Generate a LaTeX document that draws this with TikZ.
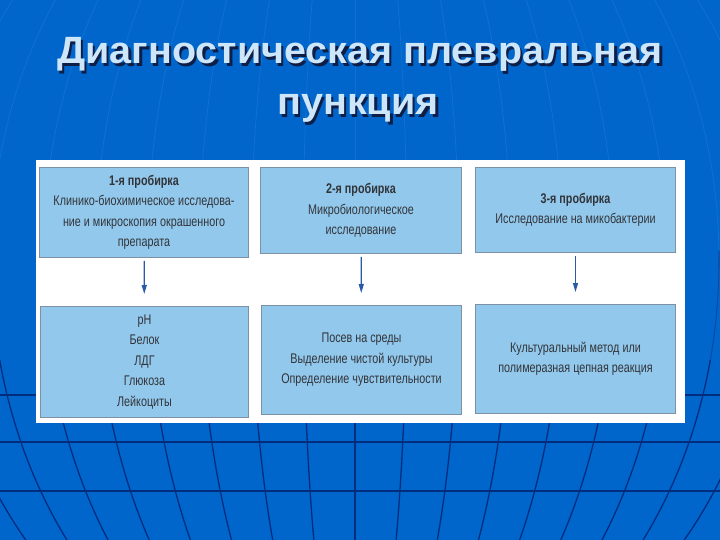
\documentclass[tikz,border=0pt]{standalone}
\usepackage{fontspec}
\setmainfont{Liberation Sans}
\newfontfamily\narrowfont{Liberation Sans}[FakeStretch=0.77]
\newfontfamily\headfont{Liberation Sans}[FakeStretch=1.04]
\usepackage{tikz}
\usetikzlibrary{arrows.meta, positioning}
\definecolor{slidebg}{RGB}{0,102,204}
\definecolor{gridfaint}{RGB}{18,112,210}
\definecolor{gridmid}{RGB}{10,75,165}
\definecolor{griddark}{RGB}{0,45,125}
\definecolor{boxfill}{RGB}{146,200,235}
\definecolor{boxedge}{RGB}{125,145,165}
\definecolor{boxtext}{RGB}{50,52,58}
\definecolor{arrowblue}{RGB}{40,90,165}
\definecolor{titlefg}{RGB}{205,230,250}
\definecolor{titleshade}{RGB}{15,30,70}
\tikzstyle{tube} = [rectangle, draw=boxedge, line width=1pt, fill=boxfill, text=boxtext,
    align=center, inner sep=0pt, font=\narrowfont\fontsize{14}{20.5}\selectfont]
\tikzstyle{heading} = [font=\headfont\bfseries\fontsize{38}{44}\selectfont, anchor=base, inner sep=0pt]
\tikzstyle{grid} = [line width=1.3pt]
\tikzstyle{arrow} = [line width=1.2pt, draw=arrowblue, -{Triangle[width=5pt,length=9pt]}]

\begin{document}
\begin{tikzpicture}[x=1pt, y=-1pt]
  \useasboundingbox (0,0) rectangle (720,540);
  \fill[slidebg] (0,0) rectangle (720,540);
  % globe lines, fainter towards the top
  \foreach \ya/\yb/\col/\lw in {0/250/gridfaint/0.8, 250/360/gridmid/1.1, 360/540/griddark/1.3} {
    \begin{scope}
      \clip (0,\ya) rectangle (720,\yb);
      \foreach \k in {1,...,8}
        \draw[\col, line width=\lw pt] (355,260) ellipse [x radius={52*\k*1pt}, y radius=458pt];
      \draw[\col, line width=\lw pt] (355,0) -- (355,540);
    \end{scope}
  }
  \foreach \y in {395,442,491}
    \draw[grid, griddark] (0,\y) -- (720,\y);

  % title
  \node (shade1) [heading, text=titleshade] at (362.5,66.5) {Диагностическая плевральная};
  \node (title1) [heading, text=titlefg] at (360,64) {Диагностическая плевральная};
  \node (shade2) [heading, text=titleshade] at (360.5,117.5) {пункция};
  \node (title2) [heading, text=titlefg] at (358,115) {пункция};

  % white panel
  \fill[white] (36,160) rectangle (685,423);

  \node (tube1) [tube, minimum width=209pt, minimum height=90pt, anchor=north west] at (39,167)
    {\textbf{1-я пробирка}\\Клинико-биохимическое исследова-\\ние и микроскопия окрашенного\\препарата};
  \node (tube2) [tube, minimum width=201pt, minimum height=86pt, right=11pt of tube1.north east, anchor=north west]
    {\textbf{2-я пробирка}\\Микробиологическое\\исследование};
  \node (tube3) [tube, minimum width=200pt, minimum height=85pt, right=13pt of tube2.north east, anchor=north west]
    {\textbf{3-я пробирка}\\Исследование на микобактерии};

  \node (res1) [tube, minimum width=208pt, minimum height=111pt, below=48pt of tube1.south west, anchor=north west, xshift=1pt]
    {pH\\Белок\\ЛДГ\\Глюкоза\\Лейкоциты};
  \node (res2) [tube, minimum width=200pt, minimum height=109pt, below=51pt of tube2.south west, anchor=north west, xshift=1pt]
    {Посев на среды\\Выделение чистой культуры\\Определение чувствительности};
  \node (res3) [tube, minimum width=200pt, minimum height=109pt, below=51pt of tube3.south west, anchor=north west]
    {Культуральный метод или\\полимеразная цепная реакция};

  \draw[arrow, shorten <=3pt, shorten >=12pt] (tube1) -- (res1);
  \draw[arrow, shorten <=3pt, shorten >=12pt] (tube2) -- (res2);
  \draw[arrow, shorten <=3pt, shorten >=12pt] (tube3) -- (res3);
\end{tikzpicture}
\end{document}
